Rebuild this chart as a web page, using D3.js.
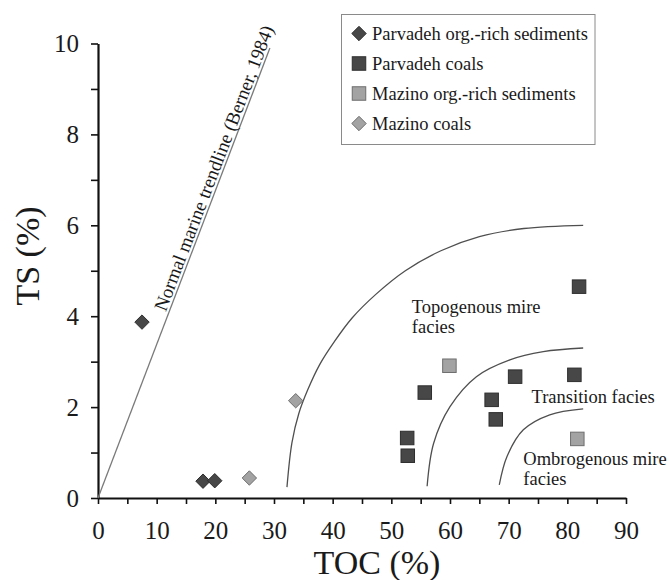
<!DOCTYPE html>
<html>
<head>
<meta charset="utf-8">
<script src="https://cdn.jsdelivr.net/npm/d3@7"></script>
<style>
  body { margin: 0; background: #fff; }
  text { font-family: "Liberation Serif", "Times New Roman", serif; fill: #1a1a1a; }
</style>
</head>
<body>
<script>
// TOC (%) vs TS (%) values
const parvadehSed = [[7.5, 3.87], [17.9, 0.37], [19.9, 0.38]];
const parvadehCoal = [[82.0, 4.65], [55.7, 2.32], [71.1, 2.67], [81.2, 2.71], [67.1, 2.16],
                      [67.8, 1.73], [52.7, 1.32], [52.8, 0.93]];
const mazinoSed = [[59.9, 2.91], [81.7, 1.30]];
const mazinoCoal = [[25.8, 0.44], [33.7, 2.14]];

// boundary curves between facies fields
const curveTopogenous = [[32.21, 0.24], [33.06, 1.22], [34.23, 1.86], [35.75, 2.38], [37.76, 2.93],
                         [40.29, 3.44], [43.31, 3.96], [47.35, 4.48], [52.39, 5.0], [58.45, 5.44],
                         [65.01, 5.75], [72.58, 5.93], [82.7, 6.0]];
const curveTransition = [[56.1, 0.26], [57.2, 1.2], [60.0, 2.01], [64.5, 2.67], [70.2, 3.04],
                         [75.9, 3.22], [82.7, 3.30]];
const curveOmbrogenous = [[68.4, 0.29], [69.7, 0.91], [72.5, 1.5], [77.0, 1.83], [82.7, 1.96]];

// normal marine trendline (Berner, 1984)
const trendline = [[0, 0], [29.3, 9.9]];

const xTicks = d3.range(0, 91, 5);
const yTicks = d3.range(0, 11, 1);

const width = 670, height = 580;
const serif = "'Liberation Serif', 'Times New Roman', serif";

let svg = d3.select("body").append("svg")
    .attr("width", width)
    .attr("height", height);

let x = d3.scaleLinear().domain([0, 90]).range([98, 626]);
let y = d3.scaleLinear().domain([0, 10]).range([498, 43.5]);

/////////////// axes //////////////////
let xAxis = d3.axisBottom(x)
    .tickValues(xTicks)
    .tickSize(6)
    .tickSizeOuter(0)
    .tickPadding(17)
    .tickFormat(d => d % 10 === 0 ? d : "");

let yAxis = d3.axisLeft(y)
    .tickValues(yTicks)
    .tickSize(7)
    .tickSizeOuter(0)
    .tickPadding(12)
    .tickFormat(d => d % 2 === 0 ? d : "");

let gx = svg.append("g")
    .attr("transform", "translate(0," + y(0) + ")")
    .call(xAxis);
let gy = svg.append("g")
    .attr("transform", "translate(" + x(0) + ",0)")
    .call(yAxis);

[gx, gy].forEach(g => {
    g.attr("font-family", serif).attr("font-size", 25);
    g.select(".domain").attr("stroke", "#111").attr("stroke-width", 2.2);
    g.selectAll(".tick line").attr("stroke", "#111").attr("stroke-width", 1.6);
    g.selectAll(".tick text")
        .style("font-family", serif)
        .style("font-size", "25px")
        .attr("fill", "#1a1a1a");
});

// axis titles
svg.append("text")
    .attr("x", 377).attr("y", 574)
    .attr("text-anchor", "middle")
    .style("font-size", "34px")
    .text("TOC (%)");

svg.append("text")
    .attr("transform", "translate(39,256) rotate(-90)")
    .attr("text-anchor", "middle")
    .style("font-size", "34px")
    .text("TS (%)");

/////////////// lines //////////////////
let line = d3.line()
    .x(d => x(d[0]))
    .y(d => y(d[1]));

svg.append("path")
    .attr("d", line(trendline))
    .attr("fill", "none")
    .attr("stroke", "#7a7a7a")
    .attr("stroke-width", 1.3);

let curved = d3.line()
    .x(d => x(d[0]))
    .y(d => y(d[1]))
    .curve(d3.curveCatmullRom);

[curveTopogenous, curveTransition, curveOmbrogenous].forEach(c => {
    svg.append("path")
        .attr("d", curved(c))
        .attr("fill", "none")
        .attr("stroke", "#4f4f4f")
        .attr("stroke-width", 1.3);
});

// label along the trendline, anchored near its upper end
let angle = Math.atan2(y(trendline[1][1]) - y(0), x(trendline[1][0]) - x(0)) * 180 / Math.PI;
let labelEnd = 30.5;
svg.append("text")
    .attr("transform", "translate(" + x(labelEnd) + "," + y(labelEnd * trendline[1][1] / trendline[1][0]) + ") rotate(" + angle + ")")
    .attr("dy", -3)
    .attr("text-anchor", "end")
    .style("font-size", "19px")
    .text("Normal marine trendline (Berner, 1984)");

// facies labels
const faciesLabels = [
    { at: [53.5, 4.07], lines: ["Topogenous mire", "facies"] },
    { at: [73.9, 2.09], lines: ["Transition facies"] },
    { at: [72.5, 0.73], lines: ["Ombrogenous mire", "facies"] }
];
faciesLabels.forEach(f => {
    let t = svg.append("text")
        .attr("x", x(f.at[0]))
        .attr("y", y(f.at[1]))
        .style("font-size", "18.5px");
    f.lines.forEach((s, i) => {
        t.append("tspan")
            .attr("x", x(f.at[0]))
            .attr("dy", i === 0 ? 0 : 20)
            .text(s);
    });
});

/////////////// points //////////////////
const darkFill = "#474747", darkStroke = "#2e2e2e";
const lightFill = "#a3a3a3", lightStroke = "#6e6e6e";

function diamond(g, cx, cy, fill, stroke) {
    let r = 7.2;
    g.append("path")
        .attr("d", "M" + cx + "," + (cy - r) + "L" + (cx + r) + "," + cy + "L" + cx + "," + (cy + r) + "L" + (cx - r) + "," + cy + "Z")
        .attr("fill", fill)
        .attr("stroke", stroke)
        .attr("stroke-width", 1);
}
function square(g, cx, cy, fill, stroke) {
    let s = 13.5;
    g.append("rect")
        .attr("x", cx - s / 2).attr("y", cy - s / 2)
        .attr("width", s).attr("height", s)
        .attr("fill", fill)
        .attr("stroke", stroke)
        .attr("stroke-width", 1);
}

let pts = svg.append("g");
parvadehSed.forEach(d => diamond(pts, x(d[0]), y(d[1]), darkFill, darkStroke));
mazinoCoal.forEach(d => diamond(pts, x(d[0]), y(d[1]), lightFill, lightStroke));
parvadehCoal.forEach(d => square(pts, x(d[0]), y(d[1]), darkFill, darkStroke));
mazinoSed.forEach(d => square(pts, x(d[0]), y(d[1]), lightFill, lightStroke));

/////////////// legend //////////////////
const legendItems = [
    { name: "Parvadeh org.-rich sediments", shape: diamond, fill: darkFill, stroke: darkStroke },
    { name: "Parvadeh coals", shape: square, fill: darkFill, stroke: darkStroke },
    { name: "Mazino org.-rich sediments", shape: square, fill: lightFill, stroke: lightStroke },
    { name: "Mazino coals", shape: diamond, fill: lightFill, stroke: lightStroke }
];

let legend = svg.append("g");
legend.append("rect")
    .attr("x", 341.5).attr("y", 14.5)
    .attr("width", 253.5).attr("height", 130)
    .attr("fill", "#fff")
    .attr("stroke", "#8a8a8a")
    .attr("stroke-width", 1);

legendItems.forEach((item, i) => {
    let cy = 33.5 + i * 30;
    item.shape(legend, 359, cy, item.fill, item.stroke);
    legend.append("text")
        .attr("x", 372).attr("y", cy)
        .attr("dy", "0.33em")
        .style("font-size", "18.5px")
        .text(item.name);
});
</script>
</body>
</html>
